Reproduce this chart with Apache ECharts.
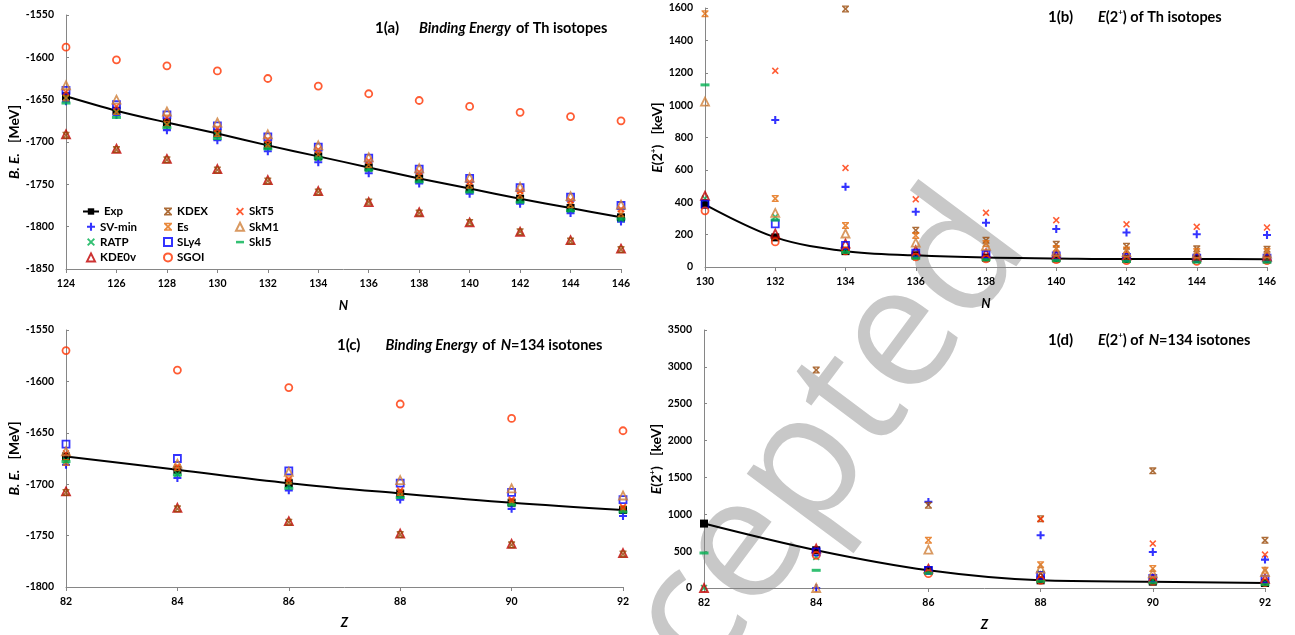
<!DOCTYPE html>
<html>
<head>
<meta charset="utf-8">
<script src="https://cdn.jsdelivr.net/npm/echarts@6/dist/echarts.min.js"></script>
<style>
  html, body { margin: 0; padding: 0; background: #fff; }
  #chart { width: 1295px; height: 635px; }
</style>
</head>
<body>
<div id="chart"></div>
<script>
// x values
const nTh = [124, 126, 128, 130, 132, 134, 136, 138, 140, 142, 144, 146]
const nE2 = [130, 132, 134, 136, 138, 140, 142, 144, 146]
const zIso = [82, 84, 86, 88, 90, 92]

// 1(a) binding energy of Th isotopes [MeV]
const beTh_Exp   = [-1646, -1663, -1677, -1690, -1704, -1717, -1730, -1743, -1755, -1767, -1778, -1789]
const beTh_SVmin = [-1652, -1668, -1686, -1698, -1711, -1724, -1737, -1749, -1761, -1773, -1784, -1794]
const beTh_RATP  = [-1648, -1665, -1680, -1692, -1706, -1719, -1732, -1745, -1757, -1769, -1780, -1791]
const beTh_KDE0v = [-1691, -1708, -1720, -1732, -1745, -1758, -1771, -1783, -1795, -1806, -1816, -1826]
const beTh_KDEX  = [-1692, -1709, -1721, -1733, -1746, -1759, -1771, -1784, -1795, -1806, -1817, -1827]
const beTh_Es    = [-1648, -1664, -1679, -1690, -1703, -1715, -1727, -1740, -1751, -1763, -1774, -1785]
const beTh_SLy4  = [-1639, -1656, -1668, -1681, -1694, -1706, -1719, -1732, -1743, -1754, -1765, -1775]
const beTh_SGOI  = [-1588, -1603, -1610, -1616, -1625, -1634, -1643, -1651, -1658, -1665, -1670, -1675]
const beTh_SkT5  = [-1641, -1658, -1671, -1684, -1697, -1709, -1722, -1735, -1747, -1758, -1769, -1779]
const beTh_SkM1  = [-1633, -1650, -1664, -1677, -1691, -1704, -1718, -1731, -1742, -1753, -1764, -1774]
const beTh_SkI5  = [-1654, -1671, -1683, -1696, -1708, -1719, -1733, -1747, -1759, -1771, -1781, -1791]

// 1(b) E(2+) of Th isotopes [keV]
const e2Th_Exp   = [385, 183, 98, 72, 58, 53, 49, 50, 48]
const e2Th_SVmin = [null, 908, 495, 341, 273, 235, 213, 202, 198]
const e2Th_RATP  = [423, 310, 110, 60, 50, 45, 42, 40, 40]
const e2Th_KDE0v = [440, 207, 145, 103, 85, 75, 70, 65, 65]
const e2Th_KDEX  = [null, null, 1594, 227, 165, 140, 128, 112, 110]
const e2Th_Es    = [1565, 423, 256, 195, 145, 115, 105, 95, 95]
const e2Th_SLy4  = [388, 266, 134, 85, 78, 68, 60, 55, 55]
const e2Th_SGOI  = [347, 155, 99, 62, 50, 45, 40, 35, 40]
const e2Th_SkT5  = [null, 1212, 612, 418, 335, 289, 264, 248, 244]
const e2Th_SkM1  = [1022, 334, 207, 150, 130, 95, 90, 83, 83]
const e2Th_SkI5  = [1125, 290, 90, 55, 45, 40, 35, 30, 30]

// 1(c) binding energy of N=134 isotones [MeV]
const beIso_Exp   = [-1673, -1686, -1699, -1709, -1718, -1725]
const beIso_SVmin = [-1681, -1694, -1706, -1715, -1724, -1731]
const beIso_RATP  = [-1677, -1690, -1701, -1711, -1719, -1725]
const beIso_KDE0v = [-1707, -1723, -1736, -1748, -1758, -1767]
const beIso_KDEX  = [-1708, -1724, -1737, -1749, -1759, -1768]
const beIso_Es    = [-1679, -1684, -1697, -1708, -1717, -1724]
const beIso_SLy4  = [-1661, -1675, -1687, -1699, -1708, -1715]
const beIso_SGOI  = [-1570, -1589, -1606, -1622, -1636, -1648]
const beIso_SkT5  = [-1670, -1683, -1695, -1706, -1715, -1722]
const beIso_SkM1  = [-1668, -1680, -1688, -1696, -1704, -1711]
const beIso_SkI5  = [-1678, -1691, -1704, -1713, -1720, -1727]

// 1(d) E(2+) of N=134 isotones [keV]
const e2Iso_Exp   = [874, 512, 240, 104, 86, 68]
const e2Iso_SVmin = [null, 0, 1168, 716, 489, 385]
const e2Iso_RATP  = [0, 420, 230, 200, 110, 80]
const e2Iso_KDE0v = [0, 535, 262, 160, 130, 125]
const e2Iso_KDEX  = [null, 2957, 1123, 940, 1589, 647]
const e2Iso_Es    = [null, null, 648, 317, 263, 240]
const e2Iso_SLy4  = [null, 489, 240, 172, 130, 120]
const e2Iso_SGOI  = [null, 444, 195, 104, 91, 73]
const e2Iso_SkT5  = [null, null, null, 933, 602, 453]
const e2Iso_SkM1  = [null, 0, 521, 263, 200, 217]
const e2Iso_SkI5  = [475, 240, 200, 90, 70, 45]

const FONT = 'Lato'
const PLUS = 'path://M3.7,0H6.3V3.7H10V6.3H6.3V10H3.7V6.3H0V3.7H3.7Z'
const CROSS = 'path://M0,1.6L1.6,0L5,3.4L8.4,0L10,1.6L6.6,5L10,8.4L8.4,10L5,6.6L1.6,10L0,8.4L3.4,5Z'
const STAR = 'path://M0,0H10V1.8H0Z M0,8.2H10V10H0Z M0,1.6L1.6,0L5,3.4L8.4,0L10,1.6L6.6,5L10,8.4L8.4,10L5,6.6L1.6,10L0,8.4L3.4,5Z'
const DASH = 'path://M0,0H10V3.2H0Z'

// marker looks (Excel style)
const looks = {
  'SV-min': { symbol: PLUS, size: 8, color: '#0000ff' },
  'RATP':   { symbol: CROSS, size: 7, color: '#00b050' },
  'KDE0v':  { symbol: 'triangle', size: 8, color: '#c00000', hollow: true },
  'KDEX':   { symbol: STAR, size: 7, color: '#984807' },
  'Es':     { symbol: STAR, size: 7, color: '#e46c0a' },
  'SLy4':   { symbol: 'rect', size: 7, color: '#0000ff', hollow: true },
  'SGOI':   { symbol: 'circle', size: 7, color: '#ff3300', hollow: true },
  'SkT5':   { symbol: CROSS, size: 7, color: '#ff3300' },
  'SkM1':   { symbol: 'triangle', size: 8, color: '#d0803a', hollow: true },
  'SkI5':   { symbol: DASH, size: [9, 3], color: '#00b050' }
}

function pairs(xs, ys) {
  const out = []
  xs.forEach((x, i) => { if (ys[i] != null) out.push([x, ys[i]]) })
  return out
}

function expSeries(gi, xs, ys) {
  return {
    name: 'Exp', type: 'line', xAxisIndex: gi, yAxisIndex: gi,
    data: pairs(xs, ys), smooth: 0.35,
    symbol: 'rect', symbolSize: 8, showAllSymbol: true,
    lineStyle: { color: '#000', width: 2 },
    itemStyle: { color: '#000' },
    z: 2
  }
}

function modelSeries(gi, name, xs, ys) {
  const l = looks[name]
  return {
    name: name, type: 'scatter', xAxisIndex: gi, yAxisIndex: gi,
    data: pairs(xs, ys),
    symbol: l.symbol, symbolSize: l.size,
    itemStyle: l.hollow
      ? { color: 'rgba(255,255,255,0)', borderColor: l.color, borderWidth: 1.8 }
      : { color: l.color },
    z: 3
  }
}

function panel(gi, xs, sets) {
  const names = ['SV-min', 'RATP', 'KDE0v', 'KDEX', 'Es', 'SLy4', 'SGOI', 'SkT5', 'SkM1', 'SkI5']
  const list = [expSeries(gi, xs, sets[0])]
  names.forEach((n, i) => list.push(modelSeries(gi, n, xs, sets[i + 1])))
  return list
}

const tickLabel = {
  color: '#000', fontFamily: FONT, fontWeight: 'bold', fontSize: 10.5,
  formatter: v => String(v)
}
const axisLine = { lineStyle: { color: '#868686', width: 1 } }

function xAx(gi, min, max, name, gap) {
  return {
    type: 'value', gridIndex: gi, min: min, max: max, interval: 2,
    axisLine: { show: true, onZero: false, lineStyle: axisLine.lineStyle },
    axisTick: { show: true, inside: false, length: 4, lineStyle: { color: '#868686' } },
    axisLabel: Object.assign({ margin: 9 }, tickLabel),
    splitLine: { show: false },
    name: name, nameLocation: 'middle', nameGap: gap,
    nameTextStyle: { fontFamily: FONT, fontWeight: 'bold', fontStyle: 'italic', fontSize: 13, color: '#000' }
  }
}

function yAx(gi, min, max, step, name, gap, rich) {
  return {
    type: 'value', gridIndex: gi, min: min, max: max, interval: step,
    axisLine: { show: true, onZero: false, lineStyle: axisLine.lineStyle },
    axisTick: { show: true, inside: true, length: 3, lineStyle: { color: '#868686' } },
    axisLabel: Object.assign({ margin: 12 }, tickLabel),
    splitLine: { show: false },
    name: name, nameLocation: 'middle', nameGap: gap,
    nameTextStyle: { fontFamily: FONT, fontWeight: 'bold', fontSize: 14, color: '#000', rich: rich }
  }
}

const beRich = {
  i: { fontFamily: FONT, fontWeight: 'bold', fontStyle: 'italic', fontSize: 14, color: '#000' },
  b: { fontFamily: FONT, fontWeight: 'bold', fontSize: 14, color: '#000' }
}
const e2Rich = {
  i: { fontFamily: FONT, fontWeight: 'bold', fontStyle: 'italic', fontSize: 14, color: '#000', lineHeight: 16 },
  b: { fontFamily: FONT, fontWeight: 'bold', fontSize: 14, color: '#000', lineHeight: 16 },
  s: { fontFamily: FONT, fontWeight: 'bold', fontSize: 8, color: '#000', verticalAlign: 'top', lineHeight: 10 }
}
const titleRich = {
  n: { fontFamily: FONT, fontSize: 15, color: '#000', lineHeight: 18 },
  i: { fontFamily: FONT, fontWeight: 'bold', fontStyle: 'italic', fontSize: 14.5, color: '#000', lineHeight: 18 },
  b: { fontFamily: FONT, fontWeight: 'bold', fontSize: 14.5, color: '#000', lineHeight: 18 },
  s: { fontFamily: FONT, fontWeight: 'bold', fontSize: 8, color: '#000', verticalAlign: 'top', lineHeight: 10 }
}

const legendText = { fontFamily: FONT, fontWeight: 'bold', fontSize: 11.5, color: '#000', lineHeight: 13 }
function legendCol(names, left, top, w) {
  return {
    data: names, left: left, top: top, orient: 'vertical', padding: 0,
    itemWidth: w, itemHeight: 8, itemGap: 2.3,
    textStyle: legendText, selectedMode: false
  }
}

const chart = echarts.init(document.getElementById('chart'))
chart.setOption({
  animation: false,
  backgroundColor: '#fff',
  title: [
    { left: 375, top: 19, padding: 0, text: '{n|1(a)}    {i|Binding Energy} {b|of Th isotopes}', textStyle: { rich: titleRich } },
    { left: 1048, top: 8, padding: 0, text: '{n|1(b)}     {i|E}{b|(2}{s|+}{b|) of Th isotopes}', textStyle: { rich: titleRich } },
    { left: 337, top: 336, padding: 0, text: '{n|1(c)}     {i|Binding Energy} {b|of} {i|N}{b|=134 isotones}', textStyle: { rich: titleRich } },
    { left: 1048, top: 331, padding: 0, text: '{n|1(d)}     {i|E}{b|(2}{s|+}{b|) of} {i|N}{b|=134 isotones}', textStyle: { rich: titleRich } }
  ],
  legend: [
    legendCol(['Exp'], 82, 205, 16),
    legendCol(['SV-min', 'RATP', 'KDE0v'], 86, 220.3, 8),
    legendCol(['KDEX', 'Es', 'SLy4', 'SGOI'], 163, 205, 8),
    legendCol(['SkT5', 'SkM1', 'SkI5'], 235, 205, 8)
  ],
  grid: [
    { left: 66, top: 15, width: 555, height: 254 },
    { left: 705, top: 8, width: 562, height: 259 },
    { left: 66, top: 330, width: 557, height: 257 },
    { left: 704, top: 330, width: 561, height: 258 }
  ],
  xAxis: [
    xAx(0, 124, 146, 'N', 30),
    xAx(1, 130, 146, 'N', 30),
    xAx(2, 82, 92, 'Z', 29),
    xAx(3, 82, 92, 'Z', 30)
  ],
  yAxis: [
    yAx(0, -1850, -1550, 50, '{i|B. E.}   {b|[MeV]}', 37, beRich),
    yAx(1, 0, 1600, 200, '{i|E}{b|(2}{s|+}{b|)}   {b|[keV]}', 14, e2Rich),
    yAx(2, -1800, -1550, 50, '{i|B. E.}   {b|[MeV]}', 37, beRich),
    yAx(3, 0, 3500, 500, '{i|E}{b|(2}{s|+}{b|)}   {b|[keV]}', 33, e2Rich)
  ],
  graphic: [
    {
      type: 'text', x: 772, y: 512, rotation: 0.93, z: -10, silent: true,
      style: {
        text: 'Accepted', fontSize: 172, fontFamily: 'Open Sans',
        fill: '#c8c8c8', align: 'center', verticalAlign: 'middle'
      }
    }
  ],
  series: [].concat(
    panel(0, nTh, [beTh_Exp, beTh_SVmin, beTh_RATP, beTh_KDE0v, beTh_KDEX, beTh_Es, beTh_SLy4, beTh_SGOI, beTh_SkT5, beTh_SkM1, beTh_SkI5]),
    panel(1, nE2, [e2Th_Exp, e2Th_SVmin, e2Th_RATP, e2Th_KDE0v, e2Th_KDEX, e2Th_Es, e2Th_SLy4, e2Th_SGOI, e2Th_SkT5, e2Th_SkM1, e2Th_SkI5]),
    panel(2, zIso, [beIso_Exp, beIso_SVmin, beIso_RATP, beIso_KDE0v, beIso_KDEX, beIso_Es, beIso_SLy4, beIso_SGOI, beIso_SkT5, beIso_SkM1, beIso_SkI5]),
    panel(3, zIso, [e2Iso_Exp, e2Iso_SVmin, e2Iso_RATP, e2Iso_KDE0v, e2Iso_KDEX, e2Iso_Es, e2Iso_SLy4, e2Iso_SGOI, e2Iso_SkT5, e2Iso_SkM1, e2Iso_SkI5])
  )
})
</script>
</body>
</html>
